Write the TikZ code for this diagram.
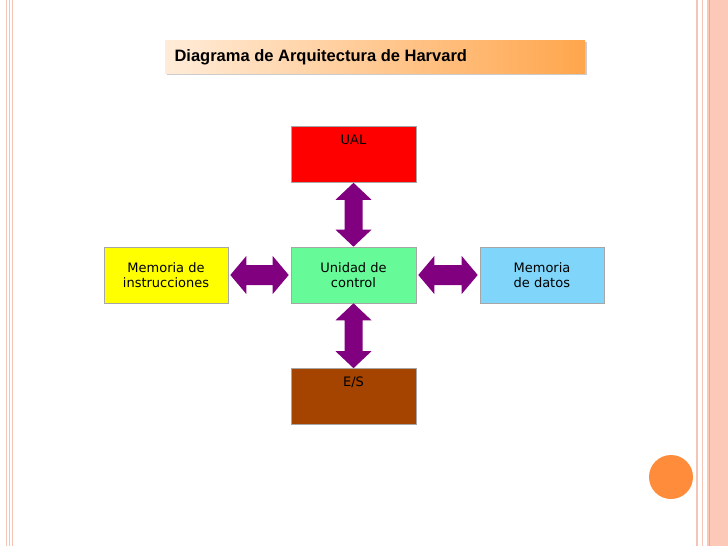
\documentclass[tikz,border=0pt]{standalone}
\usepackage{fontspec}
\setmainfont{DejaVu Sans}
\newfontfamily\titlefont{Liberation Sans}
\usetikzlibrary{shadows,calc}
\definecolor{pinkline}{HTML}{F6C4B4}
\definecolor{pinkband}{HTML}{FCC8B8}
\definecolor{dkpink}{HTML}{EFA88E}
\definecolor{purp}{HTML}{800080}
\definecolor{ualred}{HTML}{FF0000}
\definecolor{ucgreen}{HTML}{66FA99}
\definecolor{esbrown}{HTML}{A54400}
\definecolor{memyel}{HTML}{FFFF00}
\definecolor{memblue}{HTML}{80D6FA}
\definecolor{circ}{HTML}{FF8C3A}
\begin{document}
\begin{tikzpicture}[x=1pt,y=-1pt,
  blk/.style={draw=gray!70,line width=0.6pt,minimum width=125pt,minimum height=56pt,inner sep=0pt,font=\fontsize{13}{15}\selectfont,align=center},
  arr/.style={fill=purp,draw=none}]
\useasboundingbox (0,0) rectangle (728,546);
\fill[white] (0,0) rectangle (728,546);
% borders
\foreach \x in {6.5,9.5,12.5} \draw[pinkline,line width=1pt] (\x,0) -- (\x,546);
\draw[pinkline,line width=2pt] (697,0) -- (697,546);
\draw[pinkline,line width=1pt] (702,0) -- (702,546);
\fill[pinkband] (707,0) rectangle (728,546);
\draw[dkpink,line width=1pt] (709.5,0) -- (709.5,546);
% title
\node[draw=none,drop shadow={shadow xshift=1.5pt,shadow yshift=-1.5pt,opacity=0.4},left color=orange!15,right color=orange!70,minimum width=420pt,minimum height=33pt,anchor=north west,inner sep=0pt] (title) at (165,40) {};
\node[anchor=west,font=\titlefont\bfseries\fontsize{16.5}{18}\selectfont] (tt) at (171,57) {Diagrama de Arquitectura de Harvard};
% blocks
\node[blk,fill=ualred] (ual) at (353.5,154.5) {UAL\\[14pt]\mbox{}};
\node[blk,fill=ucgreen] (uc) at (353.5,275) {Unidad de\\control};
\node[blk,fill=esbrown] (es) at (353.5,396.5) {E/S\\[14pt]\mbox{}};
\node[blk,fill=memyel,minimum width=124pt] (mi) at (166,275) {Memoria de\\instrucciones};
\node[blk,fill=memblue,minimum width=124pt,align=left] (md) at (542,275) {Memoria\\de datos};
% vertical arrows
\foreach \a/\b in {ual/uc,uc/es}{
  \path (\a.south) coordinate (t) (\b.north) coordinate (u);
  \fill[arr] (t) -- ++(18,17) -- ++(-9,0) |- ($(u)+(9,-17)$) -- ++(9,0) -- (u) -- ++(-18,-17) -- ++(9,0) |- ($(t)+(-9,17)$) -- ++(-9,0) -- cycle;
}
% horizontal arrows
\path (mi.east) ++(2,0) coordinate (l1) (uc.west) ++(-2,0) coordinate (l2);
\path (uc.east) ++(2,0) coordinate (r1) (md.west) ++(-2,0) coordinate (r2);
\foreach \t/\u in {l1/l2,r1/r2}{
  \fill[arr] (\t) -- ++(16,-19) -- ++(0,9) -| ($(\u)+(-16,-10)$) -- ++(0,-9) -- (\u) -- ++(-16,19) -- ++(0,-9) -| ($(\t)+(16,10)$) -- ++(0,9) -- cycle;
}
% circle
\fill[circ] (671,477) circle (22);
\end{tikzpicture}
\end{document}
